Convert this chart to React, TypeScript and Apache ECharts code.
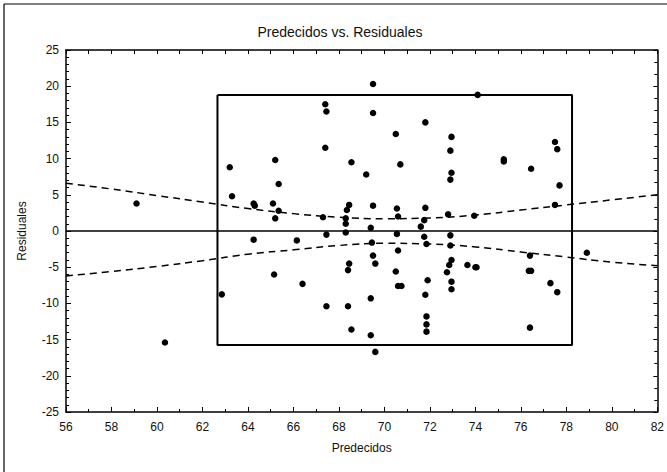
import React, { useEffect, useRef } from "react";
import * as echarts from "echarts";

// Predicted vs. residual pairs
const predecidos: number[] = [
  59.1, 60.35, 62.85, 63.2, 63.3, 64.25, 64.3, 64.25, 65.2, 65.35,
  65.1, 65.35, 65.2, 65.15, 66.15, 66.4, 67.4, 67.45, 67.4, 67.3,
  67.45, 67.45, 68.45, 68.35, 68.3, 68.3, 68.3, 68.45, 68.4, 68.4,
  68.55, 68.55, 69.2, 69.5, 69.5, 69.5, 69.4, 69.45, 69.5, 69.6,
  69.4, 69.4, 69.6, 70.5, 70.7, 70.55, 70.6, 70.55, 70.6, 70.5,
  70.6, 70.75, 71.8, 71.8, 71.75, 71.6, 71.75, 71.85, 71.9, 71.8,
  71.85, 71.85, 71.85, 72.95, 72.9, 72.95, 72.9, 72.8, 72.9, 72.9,
  72.95, 72.85, 72.75, 72.95, 72.95, 73.65, 74.0, 74.05, 74.1, 73.95,
  75.25, 75.25, 76.45, 76.4, 76.35, 76.45, 76.4, 77.5, 77.6, 77.7,
  77.5, 77.3, 77.6, 78.9,
];
const residuales: number[] = [
  3.8, -15.4, -8.75, 8.8, 4.8, 3.8, 3.5, -1.2, 9.8, 6.5,
  3.8, 2.8, 1.75, -6.0, -1.3, -7.3, 17.5, 16.5, 11.5, 1.9,
  -0.5, -10.4, 3.6, 2.9, 1.75, 1.0, -0.2, -4.5, -5.4, -10.4,
  -13.6, 9.5, 7.8, 20.3, 16.3, 3.5, 0.45, -1.6, -3.4, -4.5,
  -9.3, -14.4, -16.7, 13.4, 9.2, 3.1, 2.0, -0.4, -2.7, -5.6,
  -7.6, -7.6, 15.0, 3.2, 1.5, 0.6, -0.8, -1.8, -6.8, -8.8,
  -11.8, -12.9, -13.9, 13.0, 11.1, 8.05, 7.1, 2.3, -0.6, -2.0,
  -4.0, -4.7, -5.7, -7.0, -8.05, -4.7, -5.0, -5.0, 18.8, 2.1,
  9.9, 9.6, 8.6, -3.4, -5.5, -5.5, -13.35, 12.3, 11.3, 6.3,
  3.6, -7.2, -8.45, -3.0,
];

// Confidence band, sampled along the predicted axis
const bandX: number[] = [56, 58, 60, 62, 64, 66, 68, 70, 72, 74, 76, 78, 80, 82];
const bandUpper: number[] = [6.6, 5.8, 4.9, 4.0, 3.1, 2.4, 1.9, 1.7, 1.8, 2.2, 2.9, 3.6, 4.3, 5.0];
const bandLower: number[] = [-6.2, -5.6, -4.9, -4.1, -3.2, -2.6, -2.0, -1.7, -1.8, -2.2, -2.9, -3.6, -4.3, -4.8];

// Control box corners
const boxX: number[] = [62.66, 78.25, 78.25, 62.66, 62.66];
const boxY: number[] = [18.8, 18.8, -15.75, -15.75, 18.8];

const xTicks = { min: 56, max: 82, step: 2 };
const yTicks = { min: -25, max: 25, step: 5 };

const FONT = "'Liberation Sans', Arial, sans-serif";

export default function App() {
  const ref = useRef<HTMLDivElement>(null);

  useEffect(() => {
    if (!ref.current) return;
    const chart = echarts.init(ref.current, undefined, { renderer: "svg" });

    const points = predecidos.map((x, i) => [x, residuales[i]]);
    const upper = bandX.map((x, i) => [x, bandUpper[i]]);
    const lower = bandX.map((x, i) => [x, bandLower[i]]);
    const box = boxX.map((x, i) => [x, boxY[i]]);
    const zero = [[xTicks.min, 0], [xTicks.max, 0]];

    const axisLine = { show: true, onZero: false, lineStyle: { color: "#000", width: 1.5 } };

    chart.setOption({
      animation: false,
      backgroundColor: "#fff",
      title: {
        text: "Predecidos vs. Residuales",
        left: 335,
        top: 20,
        textAlign: "center",
        textStyle: { fontFamily: FONT, fontSize: 14, fontWeight: "normal", color: "#111" },
      },
      graphic: [
        { type: "line", shape: { x1: 4, y1: 4, x2: 4, y2: 472 }, style: { stroke: "#000", lineWidth: 1.2 } },
        { type: "line", shape: { x1: 4, y1: 4, x2: 667, y2: 4 }, style: { stroke: "#000", lineWidth: 1.2 } },
      ],
      grid: { left: 66, right: 5, top: 50, bottom: 60 },
      xAxis: [
        {
          type: "value",
          position: "bottom",
          min: xTicks.min,
          max: xTicks.max,
          interval: xTicks.step,
          name: "Predecidos",
          nameLocation: "middle",
          nameGap: 30,
          nameTextStyle: { fontFamily: FONT, fontSize: 12, color: "#111" },
          axisLine,
          axisTick: { show: true, inside: true, length: 5, lineStyle: { color: "#000" } },
          minorTick: { show: true, splitNumber: 2, length: 3, lineStyle: { color: "#000" } },
          axisLabel: { fontFamily: FONT, fontSize: 12, color: "#111", margin: 9 },
          splitLine: { show: false },
        },
        {
          type: "value",
          position: "top",
          min: xTicks.min,
          max: xTicks.max,
          interval: 1,
          axisLine,
          axisTick: { show: true, inside: true, length: 4, lineStyle: { color: "#000" } },
          axisLabel: { show: false },
          splitLine: { show: false },
        },
      ],
      yAxis: [
        {
          type: "value",
          position: "left",
          min: yTicks.min,
          max: yTicks.max,
          interval: yTicks.step,
          name: "Residuales",
          nameLocation: "middle",
          nameGap: 38,
          nameTextStyle: { fontFamily: FONT, fontSize: 12, color: "#111" },
          axisLine,
          axisTick: { show: true, inside: true, length: 5, lineStyle: { color: "#000" } },
          minorTick: { show: true, splitNumber: 5, length: 3, lineStyle: { color: "#000" } },
          axisLabel: { fontFamily: FONT, fontSize: 12, color: "#111", margin: 7 },
          splitLine: { show: false },
        },
        {
          type: "value",
          position: "right",
          min: yTicks.min,
          max: yTicks.max,
          interval: yTicks.step,
          axisLine,
          axisTick: { show: true, inside: true, length: 4, lineStyle: { color: "#000" } },
          minorTick: { show: true, splitNumber: 3, length: 3, lineStyle: { color: "#000" } },
          axisLabel: { show: false },
          splitLine: { show: false },
        },
      ],
      series: [
        {
          type: "line",
          data: zero,
          symbol: "none",
          lineStyle: { color: "#000", width: 1.5 },
          silent: true,
        },
        {
          type: "line",
          data: box,
          symbol: "none",
          lineStyle: { color: "#000", width: 2 },
          silent: true,
        },
        {
          type: "line",
          data: upper,
          symbol: "none",
          smooth: true,
          lineStyle: { color: "#000", width: 1.5, type: [7, 5] },
          silent: true,
        },
        {
          type: "line",
          data: lower,
          symbol: "none",
          smooth: true,
          lineStyle: { color: "#000", width: 1.5, type: [7, 5] },
          silent: true,
        },
        {
          type: "scatter",
          data: points,
          symbol: "circle",
          symbolSize: 6.5,
          itemStyle: { color: "#000", opacity: 1 },
        },
      ],
    });

    return () => chart.dispose();
  }, []);

  return (
    <div
      ref={ref}
      style={{ position: "fixed", left: 0, top: 0, width: 667, height: 472, background: "#fff" }}
    />
  );
}
